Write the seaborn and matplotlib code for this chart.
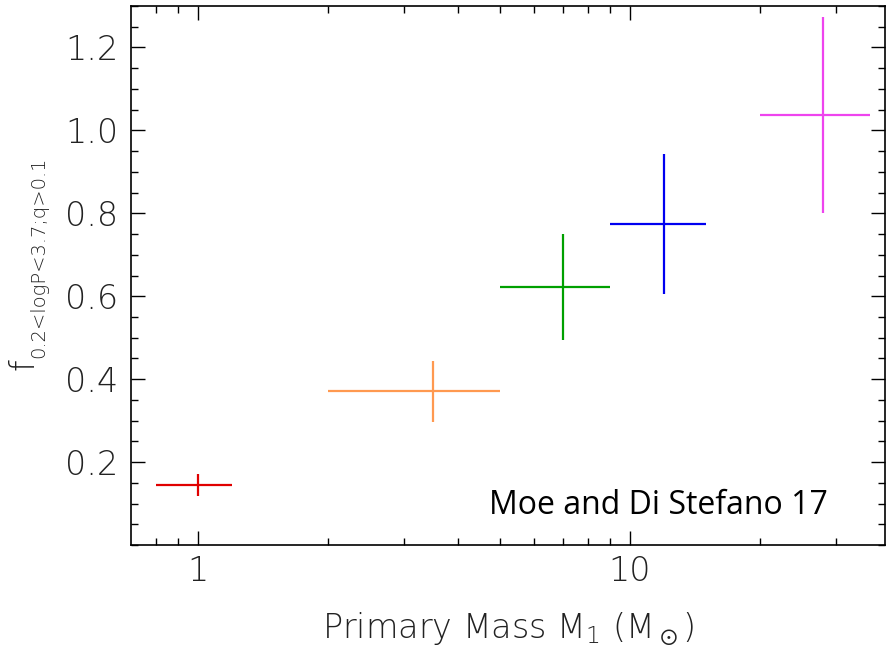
import numpy as np
import matplotlib
matplotlib.use("Agg")
import matplotlib.pyplot as plt
from matplotlib.ticker import FixedLocator, MultipleLocator, NullFormatter
import seaborn as sns

# mass bins (M_sun) and binary fraction with 0.2 < logP < 3.7, q > 0.1
mass = [1.0, 3.5, 7.0, 12.0, 28.0]
mass_lo = [0.8, 2.0, 5.0, 9.0, 20.0]
mass_hi = [1.2, 5.0, 9.0, 15.0, 36.0]
frac = [0.145, 0.371, 0.622, 0.775, 1.037]
frac_err = [0.026, 0.074, 0.128, 0.169, 0.237]
colors = ["#e00000", "#ff9950", "#00a000", "#0000f0", "#ee44ee"]

sns.set_theme(style="ticks")
plt.rcParams["font.family"] = ["DejaVu Sans"]
plt.rcParams["mathtext.default"] = "regular"

fig, ax = plt.subplots(figsize=(8.87, 6.5), dpi=100)
fig.subplots_adjust(left=0.1477, right=0.9977, top=0.9908, bottom=0.1615)

for m, lo, hi, f, e, c in zip(mass, mass_lo, mass_hi, frac, frac_err, colors):
    ax.errorbar(m, f, xerr=[[m - lo], [hi - m]], yerr=e, fmt="none",
                ecolor=c, elinewidth=1.6, capsize=0)

ax.set_xscale("log")
ax.set_xlim(0.7, 39)
ax.set_ylim(0, 1.3)

ax.xaxis.set_major_locator(FixedLocator([1, 10]))
ax.xaxis.set_minor_locator(FixedLocator([0.8, 0.9, 2, 3, 4, 5, 6, 7, 8, 9, 20, 30]))
ax.xaxis.set_minor_formatter(NullFormatter())
ax.set_xticklabels(["1", "10"])
ax.set_yticks([0.2, 0.4, 0.6, 0.8, 1.0, 1.2])
ax.yaxis.set_minor_locator(MultipleLocator(0.05))

ax.tick_params(which="both", direction="in", top=True, right=True,
               colors="black", labelcolor="#222222")
ax.tick_params(which="major", length=10, width=1.0, labelsize=24)
ax.tick_params(which="minor", length=5, width=1.0)
ax.tick_params(axis="x", which="major", pad=7)
ax.tick_params(axis="y", which="major", pad=9)
for sp in ax.spines.values():
    sp.set_linewidth(1.2)
    sp.set_color("black")

for lab in ax.get_xticklabels() + ax.get_yticklabels():
    lab.set_fontweight("light")

ax.set_xlabel(r"Primary Mass $M_1$ ($M_\odot$)", fontsize=24, color="#222222",
              fontweight="light", labelpad=16)

# y label: big "f" with a long subscript, drawn as two rotated texts
fig.text(0.009, 0.431, "f", rotation=90, ha="left", va="bottom",
         fontsize=24, fontweight="light", color="#222222")
fig.text(0.033, 0.449, "0.2<logP<3.7;q>0.1", rotation=90, ha="left",
         va="bottom", fontsize=14, fontweight="light", color="#222222")

ax.text(0.924, 0.0575, "Moe and Di Stefano 17", transform=ax.transAxes,
        ha="right", va="baseline", fontsize=23,
        family=["Open Sans", "DejaVu Sans"], color="black")

fig.savefig("out.png", dpi=100)
